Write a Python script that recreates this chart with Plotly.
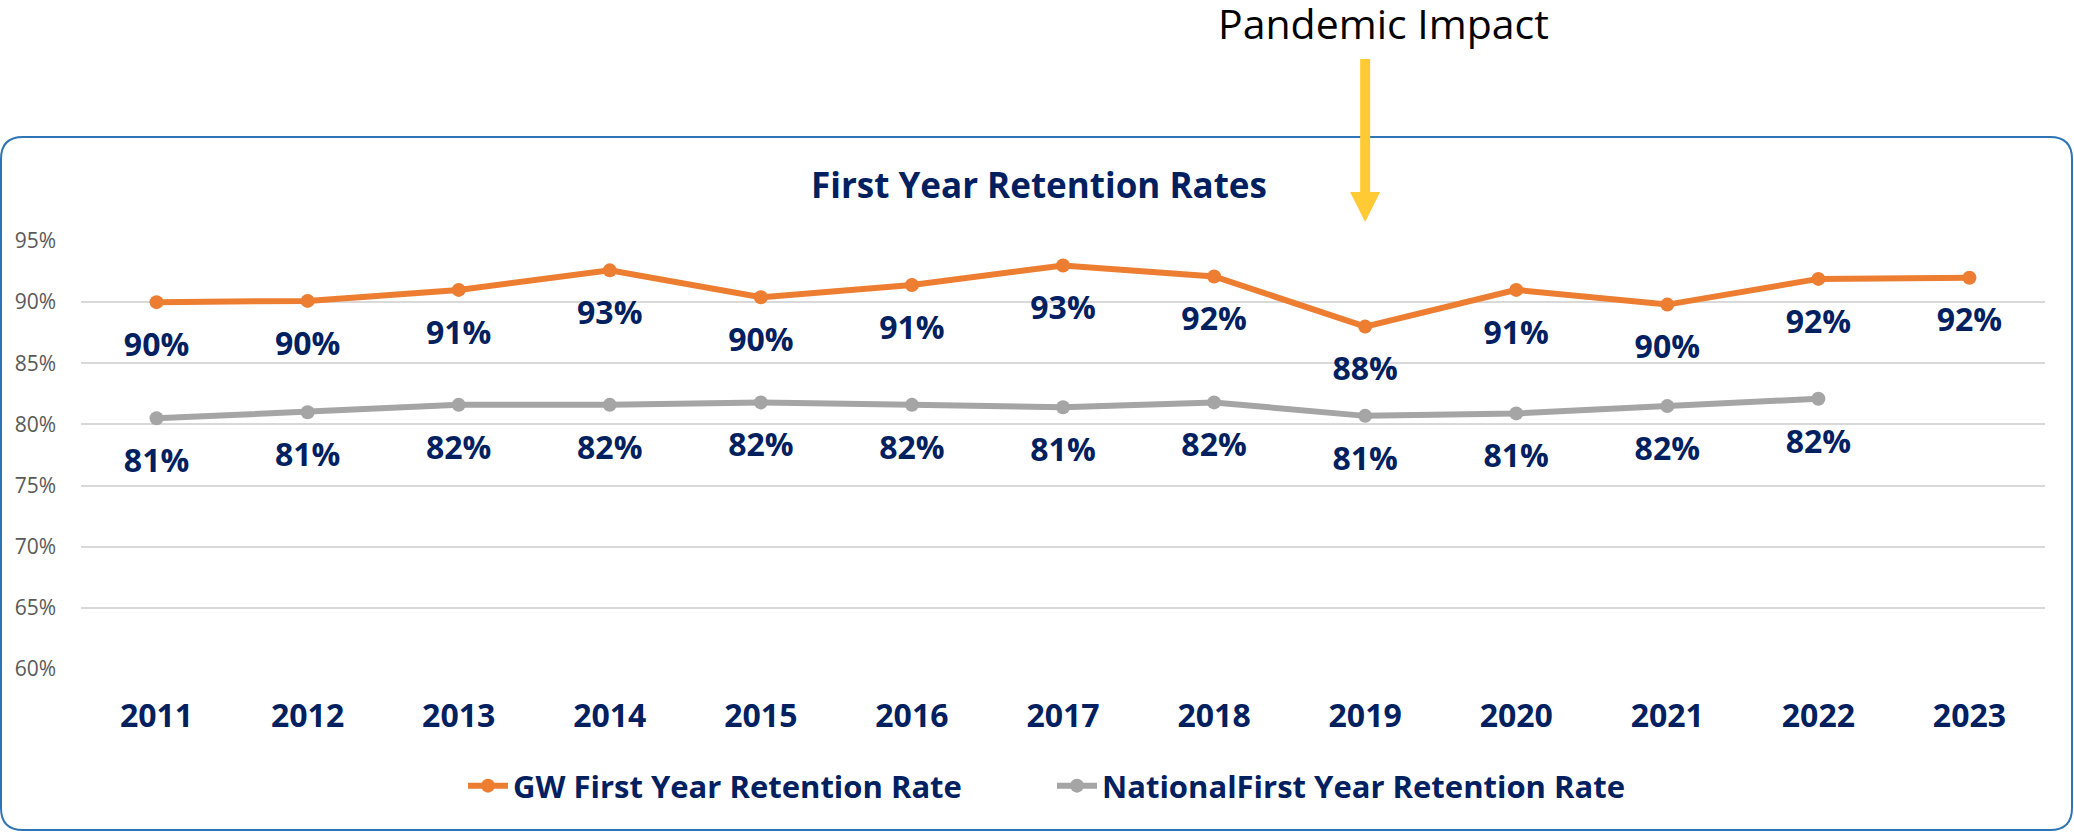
import plotly.graph_objects as go

years = ["2011", "2012", "2013", "2014", "2015", "2016", "2017",
         "2018", "2019", "2020", "2021", "2022", "2023"]
gw_rate = [90.0, 90.1, 91.0, 92.6, 90.4, 91.4, 93.0, 92.1, 88.0, 91.0, 89.8, 91.9, 92.0]
gw_labels = ["90%", "90%", "91%", "93%", "90%", "91%", "93%", "92%", "88%", "91%", "90%", "92%", "92%"]
nat_years = years[:12]
nat_rate = [80.5, 81.0, 81.6, 81.6, 81.8, 81.6, 81.4, 81.8, 80.7, 80.9, 81.5, 82.1]
nat_labels = ["81%", "81%", "82%", "82%", "82%", "82%", "81%", "82%", "81%", "81%", "82%", "82%"]
y_ticks = [60, 65, 70, 75, 80, 85, 90, 95]
y_tick_labels = ["60%", "65%", "70%", "75%", "80%", "85%", "90%", "95%"]
title_text = "First Year Retention Rates"
arrow_text = "Pandemic Impact"
arrow_year = "2019"

NAVY = "#002060"
ORANGE = "#ED7D31"
GRAY = "#A5A5A5"
GOLD = "#FFCA33"
BLUE = "#2E75B6"
FONT = "Open Sans"

W, H = 2074, 832
ML, MR, MT, MB = 81, 29, 241, 163
PW, PH = W - ML - MR, H - MT - MB


def px(x):
    return (x - ML) / PW


def py(y):
    return (H - MB - y) / PH


fig = go.Figure()
fig.add_trace(go.Scatter(
    x=years, y=gw_rate, mode="lines+markers", name="GW First Year Retention Rate",
    line=dict(color=ORANGE, width=6), marker=dict(color=ORANGE, size=14),
    hoverinfo="skip",
))
fig.add_trace(go.Scatter(
    x=nat_years, y=nat_rate, mode="lines+markers", name="NationalFirst Year Retention Rate",
    line=dict(color=GRAY, width=6), marker=dict(color=GRAY, size=14),
    hoverinfo="skip",
))
# data labels below each point (invisible spacer markers push the text down)
for xs, ys, ls in [(years, gw_rate, gw_labels), (nat_years, nat_rate, nat_labels)]:
    fig.add_trace(go.Scatter(
        x=xs, y=ys, text=ls, mode="markers+text", textposition="bottom center",
        marker=dict(size=46, color="rgba(0,0,0,0)"),
        textfont=dict(family=FONT, size=32, color=NAVY, weight="bold"),
        showlegend=False, hoverinfo="skip", cliponaxis=False,
    ))

annotations = [
    dict(x=px(1039), y=py(184), xref="paper", yref="paper", text=title_text, showarrow=False,
         xanchor="center", yanchor="middle",
         font=dict(family=FONT, size=35, color=NAVY, weight="bold")),
    dict(x=px(1383), y=py(23), xref="paper", yref="paper", text=arrow_text, showarrow=False,
         xanchor="center", yanchor="middle",
         font=dict(family=FONT, size=41, color="#000000")),
]

# Arrow at the pandemic year
idx = years.index(arrow_year)
xa = (idx + 0.5) / len(years)
hw = 15 / PW
shapes = [
    dict(type="line", xref="paper", yref="paper", x0=xa, x1=xa, y0=py(59), y1=py(193),
         line=dict(color=GOLD, width=10)),
    dict(type="path", xref="paper", yref="paper",
         path=f"M {xa - hw},{py(192)} L {xa + hw},{py(192)} L {xa},{py(222)} Z",
         fillcolor=GOLD, line=dict(width=0)),
]

# Rounded border
L, R, T, B, r = 1, 2072, 137, 830, 22
pts = [
    ("M", [(L + r, T)]), ("L", [(R - r, T)]), ("Q", [(R, T), (R, T + r)]),
    ("L", [(R, B - r)]), ("Q", [(R, B), (R - r, B)]), ("L", [(L + r, B)]),
    ("Q", [(L, B), (L, B - r)]), ("L", [(L, T + r)]), ("Q", [(L, T), (L + r, T)]),
]
path = " ".join(c + " " + " ".join(f"{px(a)},{py(b)}" for a, b in p) for c, p in pts) + " Z"
shapes.insert(0, dict(type="path", xref="paper", yref="paper", path=path,
                      line=dict(color=BLUE, width=2), fillcolor="rgba(0,0,0,0)", layer="below"))

fig.update_layout(
    width=W, height=H,
    margin=dict(l=ML, r=MR, t=MT, b=MB, autoexpand=False),
    paper_bgcolor="white", plot_bgcolor="white",
    showlegend=True,
    legend=dict(orientation="h", x=px(463), xanchor="left", y=py(786), yanchor="middle",
                font=dict(family=FONT, size=31, color=NAVY, weight="bold"),
                itemwidth=40, traceorder="normal", entrywidth=534),
    annotations=annotations,
    shapes=shapes,
    xaxis=dict(type="category", categoryorder="array", categoryarray=years,
               range=[-0.5, len(years) - 0.5], showgrid=False, showline=False, ticks="",
               tickfont=dict(family=FONT, size=32, color=NAVY, weight="bold"),
               ticklabelstandoff=25, zeroline=False),
    yaxis=dict(range=[60, 95], tickmode="array", tickvals=y_ticks, ticktext=y_tick_labels,
               showgrid=True, gridcolor="#D9D9D9", gridwidth=2, zeroline=False,
               showline=False, ticks="",
               tickfont=dict(family=FONT, size=21, color="#595959"),
               ticklabelstandoff=24),
)

fig.write_html("out.html", config={"displayModeBar": False},
               post_script="document.body.style.margin='0';document.body.style.overflow='hidden';")
